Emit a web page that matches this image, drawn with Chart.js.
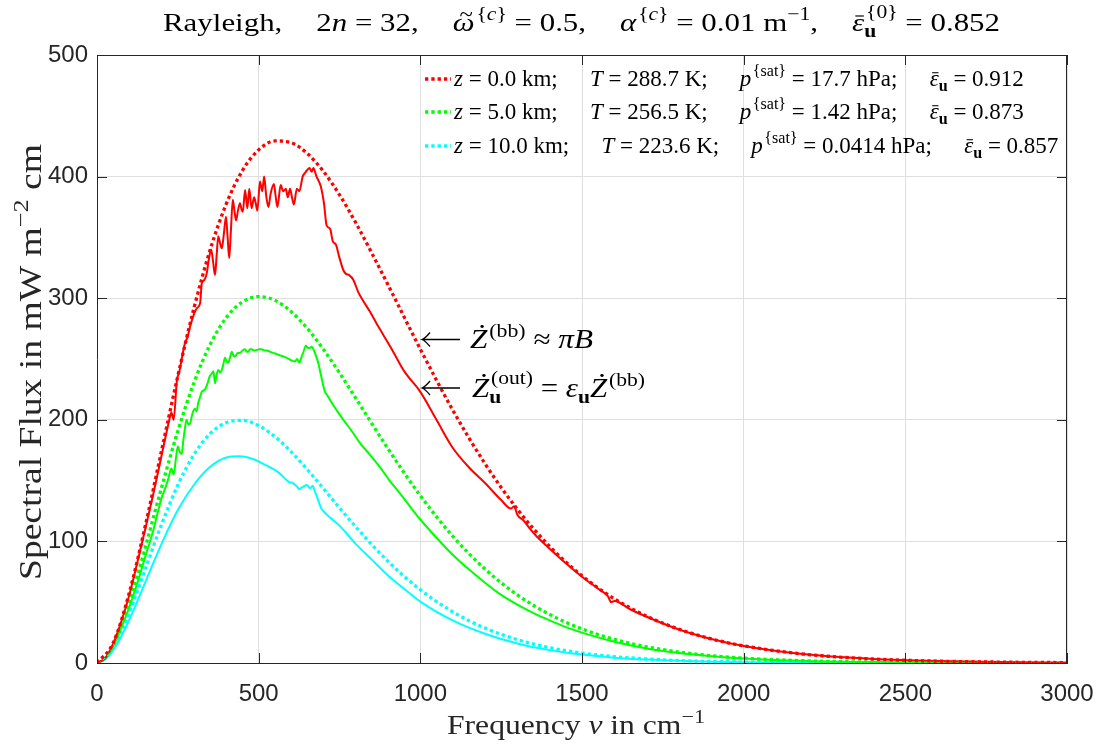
<!DOCTYPE html>
<html>
<head>
<meta charset="utf-8">
<script src="https://cdn.jsdelivr.net/npm/chart.js@4/dist/chart.umd.min.js"></script>
<style>
  html, body { margin: 0; padding: 0; background: #fff; }
  #wrap { width: 1097px; height: 750px; }
</style>
</head>
<body>
<div id="wrap"><canvas id="chart" width="1097" height="750"></canvas></div>
<script>
// ---- data ----
const xTicks = [0, 500, 1000, 1500, 2000, 2500, 3000];
const yTicks = [0, 100, 200, 300, 400, 500];

// black body curves (dotted), wavenumber in cm^-1
const nuBB = [0, 50, 100, 150, 200, 250, 300, 350, 400, 450, 500, 550, 600, 650, 700, 750, 800, 900, 1000,
  1100, 1200, 1300, 1400, 1500, 1600, 1700, 1800, 1900, 2000, 2200, 2400, 2600, 2800, 3000];
const bb0 = [0, 16.5, 57.9, 113.6, 175.1, 236.1, 292.0, 339.8, 377.7, 405.1, 422.0, 429.3, 427.9, 419.1, 404.4,
  385.0, 362.2, 311.0, 258.1, 208.1, 163.9, 126.5, 95.9, 71.7, 52.8, 38.5, 27.8, 19.8, 14.1, 6.9, 3.3, 1.55, 0.72, 0.32];
const bb5 = [0, 14.5, 49.7, 95.7, 144.6, 190.8, 230.6, 262.0, 284.1, 297.0, 301.3, 298.3, 289.1, 275.3, 258.0,
  238.6, 217.9, 176.2, 137.6, 104.3, 77.3, 56.0, 39.9, 28.0, 19.4, 13.3, 9.0, 6.0, 4.0, 1.74, 0.74, 0.31, 0.12, 0.05];
const bb10 = [0, 12.3, 41.4, 77.7, 114.2, 146.3, 171.5, 188.6, 197.7, 199.5, 195.2, 186.2, 173.8, 159.2, 143.6,
  127.6, 112.0, 83.6, 60.2, 42.1, 28.7, 19.2, 12.6, 8.1, 5.2, 3.3, 2.0, 1.26, 0.77, 0.28, 0.10, 0.04, 0.01, 0];

// outgoing flux (solid)
const nuOut0 = [0, 25, 50, 75, 100, 125, 150, 175, 200, 212, 222, 230, 237, 247, 255, 262, 267, 272, 280, 288,
  295, 303, 310, 319, 324, 332, 339, 346, 353, 359, 365, 370, 375, 380, 386, 392, 399, 404, 409, 414,
  420, 425, 430, 436, 442, 447, 451, 458, 465, 471, 478, 486, 491, 496, 504, 511, 517, 523, 530, 537,
  547, 552, 558, 568, 576, 584, 590, 597, 603, 609, 618, 626, 636, 643, 649, 657, 664, 669, 679, 692,
  702, 710, 721, 729, 739, 749, 762, 770, 780, 793, 808, 825, 844, 865, 885, 916, 950, 1000, 1050, 1100,
  1150, 1200, 1250, 1280, 1290, 1300, 1320, 1340, 1360, 1400, 1450, 1500, 1550, 1580, 1590, 1600, 1650, 1700, 1800, 1900,
  2000, 2200, 2400, 2600, 2800, 3000];
const out0 = [0, 3.9, 16, 34, 56, 83, 111, 140, 171, 186, 198, 206, 200, 232, 240, 250, 257, 263, 268, 277,
  283, 289, 292, 296, 312, 315, 320, 332, 340, 330, 319, 335, 351, 346, 341, 352, 367, 350, 333, 355,
  381, 372, 364, 372, 378, 373, 371, 389, 374, 390, 374, 383, 378, 372, 396, 388, 400, 385, 375, 386,
  394, 385, 375, 393, 388, 390, 383, 390, 383, 377, 390, 388, 400, 403, 405, 407, 404, 407, 400, 392,
  378, 360, 357, 347, 344, 334, 323, 320, 319, 315, 305, 297, 289, 279, 270, 256, 240, 223, 200, 177,
  161, 148, 134, 127, 129, 122, 117, 110, 104, 94, 82, 71, 61, 55, 50, 51, 44, 38, 27.5, 19.7,
  14, 6.9, 3.3, 1.55, 0.72, 0.32];

const nuOut5 = [0, 25, 50, 75, 100, 125, 150, 175, 190, 200, 210, 220, 230, 237, 244, 250, 257, 262, 267, 272,
  277, 283, 288, 295, 303, 308, 313, 318, 324, 334, 342, 349, 355, 360, 365, 370, 375, 380, 386, 391,
  396, 401, 406, 412, 417, 422, 427, 435, 442, 450, 458, 463, 468, 473, 478, 486, 494, 502, 509, 517,
  525, 535, 545, 556, 566, 577, 587, 600, 612, 619, 626, 633, 640, 646, 652, 657, 664, 671, 678, 684,
  690, 695, 700, 705, 710, 715, 726, 741, 762, 790, 813, 845, 875, 905, 937, 970, 1000, 1050, 1100, 1150,
  1200, 1250, 1300, 1350, 1400, 1450, 1500, 1600, 1700, 1800, 1900, 2000, 2200, 2400, 2600, 2800, 3000];
const out5 = [0, 3.5, 13.5, 29, 46, 66, 88, 110, 126, 136, 143, 151, 160, 155, 168, 178, 173, 172, 183, 193,
  200, 196, 197, 205, 209, 207, 214, 218, 223, 225, 230, 236, 238, 240, 230, 237, 241, 239, 241, 246,
  251, 248, 247, 252, 256, 253, 252, 255, 255, 257, 258, 256, 256, 258, 258, 257, 257.5, 258, 258, 257,
  257, 256, 255, 254, 253, 252, 251, 249, 248, 250, 247, 252, 257, 261, 259, 259, 260, 257, 252, 247,
  240, 234, 228, 223, 221, 219, 214, 208, 200, 190, 181, 171, 161, 150, 139.5, 128, 118, 103, 89, 77,
  66, 56, 48, 41, 35, 29.5, 25, 17.5, 12, 8.2, 5.6, 3.8, 1.7, 0.72, 0.3, 0.12, 0.05];

const nuOut10 = [0, 25, 50, 75, 100, 150, 200, 250, 300, 350, 400, 440, 480, 520, 560, 593, 607, 619, 626, 632,
  638, 649, 659, 667, 674, 684, 692, 700, 715, 750, 800, 850, 900, 950, 1000, 1100, 1200, 1300, 1400, 1500,
  1600, 1700, 1800, 1900, 2000, 2200, 2400, 2600, 3000];
const out10 = [0, 2.9, 10.6, 21.9, 35.6, 66.8, 98.2, 125.8, 146.6, 161.3, 169, 170, 168, 163, 157, 149, 147.8, 145, 142.8, 144,
  145, 146.4, 143.7, 145.8, 141, 134, 128, 125, 121, 113, 98, 85, 72, 61, 50.5, 35, 24, 16.1, 10.6, 6.9,
  4.4, 2.8, 1.75, 1.1, 0.68, 0.25, 0.09, 0.03, 0];

const RED = '#ff0000', GREEN = '#00ff00', CYAN = '#00ffff';
const AXIS = '#262626';
const SERIF = '"Liberation Serif", "Times New Roman", serif';
const TICK = 10;

function pts(xs, ys) { return xs.map((x, i) => ({ x: x, y: ys[i] })); }

function dotted(label, xs, ys, color) {
  return { label: label, data: pts(xs, ys), borderColor: color, borderWidth: 3.3, borderDash: [3.3, 3],
    borderCapStyle: 'butt', pointRadius: 0, cubicInterpolationMode: 'monotone', fill: false };
}
function solid(label, xs, ys, color) {
  return { label: label, data: pts(xs, ys), borderColor: color, borderWidth: 2,
    pointRadius: 0, cubicInterpolationMode: 'monotone', fill: false };
}

// ---- rich text (math-ish) helpers ----
function R(t) { return { t: t, s: 'r' }; }
function I(t) { return { t: t, s: 'i' }; }
function fnt(s, size) {
  return (s.indexOf('i') >= 0 ? 'italic ' : '') + (s.indexOf('b') >= 0 ? 'bold ' : '') + size + 'px ' + SERIF;
}
function runW(ctx, segs, size) {
  let w = 0;
  for (const [t, s] of segs) { ctx.font = fnt(s, size); w += ctx.measureText(t).width; }
  return w;
}
function runDraw(ctx, segs, x, y, size) {
  for (const [t, s] of segs) { ctx.font = fnt(s, size); ctx.fillText(t, x, y); x += ctx.measureText(t).width; }
  return x;
}
function partW(ctx, p, size) {
  if (typeof p === 'number') return p * size;
  ctx.font = fnt(p.s, size);
  const w = ctx.measureText(p.t).width;
  let e = 0;
  if (p.sup) e = Math.max(e, runW(ctx, p.sup, size * 0.7) + (p.s === 'i' ? size * 0.06 : 0));
  if (p.sub) e = Math.max(e, runW(ctx, p.sub, size * 0.7));
  return w + e;
}
function richW(ctx, parts, size) { return parts.reduce((w, p) => w + partW(ctx, p, size), 0); }
function drawAcc(ctx, p, x, y, w, size) {
  const cx = x + w / 2 + (p.s === 'i' ? size * 0.08 : 0);
  if (p.acc === 'dot') {
    ctx.beginPath(); ctx.arc(cx + size * 0.03, y - size * 0.8, size * 0.055, 0, 2 * Math.PI); ctx.fill();
  } else if (p.acc === 'bar') {
    ctx.fillRect(x + w * 0.15 + size * 0.05, y - size * 0.6, w * 0.7, Math.max(1, size * 0.045));
  } else if (p.acc === 'tilde') {
    ctx.font = fnt('r', size * 0.8);
    ctx.textAlign = 'center';
    ctx.fillText('~', cx, y - size * 0.38);
    ctx.textAlign = 'left';
  }
}
function drawRich(ctx, parts, x, y, size) {
  ctx.textAlign = 'left';
  ctx.textBaseline = 'alphabetic';
  for (const p of parts) {
    if (typeof p === 'number') { x += p * size; continue; }
    ctx.font = fnt(p.s, size);
    const w = ctx.measureText(p.t).width;
    ctx.fillText(p.t, x, y);
    if (p.acc) drawAcc(ctx, p, x, y, w, size);
    const both = p.sup && p.sub;
    let e = 0;
    if (p.sup) {
      const dx = p.s === 'i' ? size * 0.06 : 0;
      runDraw(ctx, p.sup, x + w + dx, y - size * (both ? 0.5 : 0.42), size * 0.7);
      e = Math.max(e, dx + runW(ctx, p.sup, size * 0.7));
    }
    if (p.sub) {
      runDraw(ctx, p.sub, x + w, y + size * 0.22, size * 0.7);
      e = Math.max(e, runW(ctx, p.sub, size * 0.7));
    }
    x += w + e;
  }
  return x;
}
// the TeX glyphs are wider than Times, so some runs are stretched to the span seen in the figure
function drawFit(ctx, parts, x0, x1, y, size) {
  const k = (x1 - x0) / richW(ctx, parts, size);
  ctx.save();
  ctx.translate(x0, y);
  ctx.scale(k, 1);
  drawRich(ctx, parts, 0, 0, size);
  ctx.restore();
}
function longLeftArrow(ctx, x0, x1, y) {
  ctx.beginPath();
  ctx.moveTo(x1, y); ctx.lineTo(x0, y);
  ctx.moveTo(x0 + 8, y - 7); ctx.quadraticCurveTo(x0 + 3, y - 1, x0, y);
  ctx.quadraticCurveTo(x0 + 3, y + 1, x0 + 8, y + 7);
  ctx.stroke();
}

const braceC = [['{', 'r'], ['c', 'i'], ['}', 'r']];
const titleParts = [R('Rayleigh,'), 1.1, R('2'), I('n'), R(' = 32,'), 1.1,
  { t: 'ω', s: 'i', acc: 'tilde', sup: braceC }, R(' = 0.5,'), 1.1,
  { t: 'α', s: 'i', sup: braceC }, R(' = 0.01 '), { t: 'm', s: 'r', sup: [['−1', 'r']] }, R(','), 1.1,
  { t: 'ε', s: 'i', acc: 'bar', sup: [['{0}', 'r']], sub: [['u', 'b']] }, R(' = 0.852')];
const xLabelParts = [R('Frequency '), I('ν'), R(' in '), { t: 'cm', s: 'r', sup: [['−1', 'r']] }];
const yLabelParts = [R('Spectral Flux in mW '), { t: 'm', s: 'r', sup: [['−2', 'r']] }, R(' cm')];

const epsU = { t: 'ε', s: 'i', acc: 'bar', sub: [['u', 'b']] };
const pSat = { t: 'p', s: 'i', sup: [['{sat}', 'r']] };
const Q = 1.4; // gap between legend fields, em
const legendRows = [
  [I('z'), R(' = 0.0 km;'), Q, I('T'), R(' = 288.7 K;'), Q, pSat, R(' = 17.7 hPa;'), Q, epsU, R(' = 0.912')],
  [I('z'), R(' = 5.0 km;'), Q, I('T'), R(' = 256.5 K;'), Q, pSat, R(' = 1.42 hPa;'), Q, epsU, R(' = 0.873')],
  [I('z'), R(' = 10.0 km;'), Q, I('T'), R(' = 223.6 K;'), Q, pSat, R(' = 0.0414 hPa;'), Q, epsU, R(' = 0.857')]
];
const legendBase = [86, 119, 153];

const note1 = [{ t: 'Z', s: 'i', acc: 'dot', sup: [['(bb)', 'r']] }, R(' ≈ '), I('π'), I('B')];
const note2 = [{ t: 'Z', s: 'i', acc: 'dot', sup: [['(out)', 'r']], sub: [['u', 'b']] }, R(' = '),
  { t: 'ε', s: 'i', sub: [['u', 'b']] }, { t: 'Z', s: 'i', acc: 'dot', sup: [['(bb)', 'r']] }];

const decor = {
  id: 'decor',
  afterDraw(chart) {
    const ctx = chart.ctx, a = chart.chartArea, xs = chart.scales.x, ys = chart.scales.y;
    ctx.save();
    // box and inward ticks
    ctx.strokeStyle = AXIS;
    ctx.lineWidth = 1;
    ctx.beginPath();
    ctx.moveTo(a.left, a.top + 0.5); ctx.lineTo(a.right, a.top + 0.5);
    ctx.moveTo(a.right - 0.5, a.top); ctx.lineTo(a.right - 0.5, a.bottom);
    for (const t of xTicks) {
      const px = Math.round(xs.getPixelForValue(t)) + 0.5;
      ctx.moveTo(px, a.bottom); ctx.lineTo(px, a.bottom - TICK);
      ctx.moveTo(px, a.top); ctx.lineTo(px, a.top + TICK);
    }
    for (const t of yTicks) {
      const py = Math.round(ys.getPixelForValue(t)) + 0.5;
      ctx.moveTo(a.left, py); ctx.lineTo(a.left + TICK, py);
      ctx.moveTo(a.right, py); ctx.lineTo(a.right - TICK, py);
    }
    ctx.stroke();

    // title
    ctx.fillStyle = '#000';
    drawFit(ctx, titleParts, 163, 1000, 31, 26);
    // axis labels
    ctx.fillStyle = AXIS;
    drawFit(ctx, xLabelParts, 447, 705, 734, 27);
    ctx.save();
    ctx.translate(41, 362);
    ctx.rotate(-Math.PI / 2);
    drawFit(ctx, yLabelParts, -218, 218, 0, 31);
    ctx.restore();

    // legend
    ctx.fillStyle = '#000';
    legendRows.forEach((row, i) => {
      const ds = chart.data.datasets[i];
      const y = legendBase[i];
      ctx.save();
      ctx.strokeStyle = ds.borderColor;
      ctx.lineWidth = ds.borderWidth;
      ctx.setLineDash(ds.borderDash);
      ctx.beginPath(); ctx.moveTo(425, y - 7); ctx.lineTo(451, y - 7); ctx.stroke();
      ctx.restore();
      drawRich(ctx, row, 454, y, 23);
    });

    // annotations
    ctx.strokeStyle = '#000';
    ctx.lineWidth = 1.3;
    longLeftArrow(ctx, 422, 460, 339.5);
    drawFit(ctx, note1, 470, 593, 348, 27);
    longLeftArrow(ctx, 422, 460, 388);
    drawFit(ctx, note2, 472, 645, 397, 27);
    ctx.restore();
  }
};

const tickFont = { family: '"Liberation Sans", Arial, sans-serif', size: 24 };

new Chart(document.getElementById('chart'), {
  type: 'line',
  data: {
    datasets: [
      dotted('bb z=0', nuBB, bb0, RED),
      dotted('bb z=5', nuBB, bb5, GREEN),
      dotted('bb z=10', nuBB, bb10, CYAN),
      solid('out z=0', nuOut0, out0, RED),
      solid('out z=5', nuOut5, out5, GREEN),
      solid('out z=10', nuOut10, out10, CYAN),
    ]
  },
  options: {
    responsive: false,
    animation: false,
    events: [],
    layout: { padding: { top: 55, right: 30, left: 0, bottom: 0 } },
    plugins: { legend: { display: false }, tooltip: { enabled: false }, title: { display: false } },
    scales: {
      x: {
        type: 'linear', min: 0, max: 3000,
        afterBuildTicks: s => { s.ticks = xTicks.map(v => ({ value: v })); },
        ticks: { color: AXIS, font: tickFont, padding: 17, maxRotation: 0, autoSkip: false, callback: v => String(v) },
        grid: { color: '#dfdfdf', drawTicks: false },
        border: { color: AXIS, width: 1 },
        afterFit: s => { s.height = 750 - 663; s.paddingLeft = 0; s.paddingRight = 0; }
      },
      y: {
        type: 'linear', min: 0, max: 500,
        afterBuildTicks: s => { s.ticks = yTicks.map(v => ({ value: v })); },
        ticks: { color: AXIS, font: tickFont, padding: 9, autoSkip: false, callback: v => String(v) },
        grid: { color: '#dfdfdf', drawTicks: false },
        border: { color: AXIS, width: 1 },
        afterFit: s => { s.width = 97; s.paddingTop = 0; s.paddingBottom = 0; }
      }
    }
  },
  plugins: [decor]
});
</script>
</body>
</html>
